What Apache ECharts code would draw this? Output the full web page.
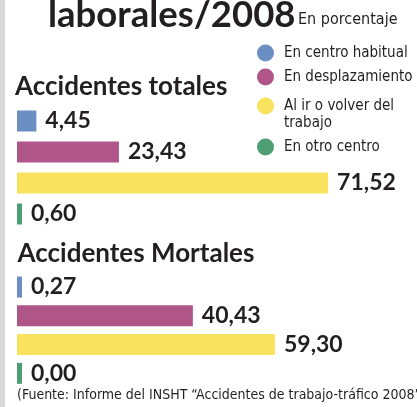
<!DOCTYPE html>
<html>
<head>
<meta charset="utf-8">
<script src="https://cdn.jsdelivr.net/npm/echarts@6/dist/echarts.min.js"></script>
<style>
  html, body { margin: 0; padding: 0; background: #fff; }
  #main { width: 417px; height: 407px; border-left: 5px solid #d9d9d9; box-sizing: border-box; }
</style>
</head>
<body>
<div id="main"></div>
<script>
var categories = ['En centro habitual', 'En desplazamiento', 'Al ir o volver del trabajo', 'En otro centro'];
// leading empty line keeps the first text line level with the dot
var legendLabels = ['En centro habitual', 'En desplazamiento', '\nAl ir o volver del\ntrabajo', 'En otro centro'];
var totales = [4.45, 23.43, 71.52, 0.60];
var mortales = [0.27, 40.43, 59.30, 0.00];
var colors = ['#6b8fc2', '#b05588', '#f9e25d', '#4e9e74'];

var narrow = '"DejaVu Sans Condensed", sans-serif';
var boldFont = 'Lato, "Open Sans", sans-serif';
var dark = '#231f20';

function fmt(p) {
    return p.value.toFixed(2).replace('.', ',');
}

function makeSeries(values, gridIndex) {
    return categories.map(function (name, i) {
        return {
            type: 'bar',
            name: name,
            xAxisIndex: gridIndex,
            yAxisIndex: gridIndex,
            data: categories.map(function (c, j) { return j === i ? values[i] : '-'; }),
            barWidth: 21,
            barGap: '-100%',
            barMinHeight: 5,
            itemStyle: { color: colors[i] },
            label: {
                show: true,
                position: 'right',
                distance: 9,
                formatter: fmt,
                fontFamily: boldFont,
                fontWeight: 'bold',
                fontSize: 23,
                color: dark
            }
        };
    });
}

var legendTops = [44.5, 68.5, 80.5, 138.5];
var legends = categories.map(function (name, i) {
    return {
        left: 252,
        top: legendTops[i],
        padding: 0,
        icon: 'circle',
        itemWidth: 21,
        itemHeight: 17,
        selectedMode: false,
        data: [name],
        formatter: function () { return legendLabels[i]; },
        textStyle: {
            fontFamily: narrow,
            fontSize: 15,
            color: dark,
            lineHeight: 17,
            padding: [0, 0, 0, 3]
        }
    };
});

var myChart = echarts.init(document.getElementById('main'));
var option = {
    animation: false,
    title: [{
        text: 'laborales/2008',
        left: 43,
        top: -3.5,
        padding: 0,
        textStyle: { fontFamily: boldFont, fontWeight: 'bold', fontSize: 36.5, color: dark }
    }, {
        text: 'En porcentaje',
        left: 293,
        top: 12,
        padding: 0,
        textStyle: { fontFamily: narrow, fontWeight: 'normal', fontSize: 16, color: dark }
    }, {
        text: 'Accidentes totales',
        left: 10,
        top: 73.5,
        padding: 0,
        textStyle: { fontFamily: boldFont, fontWeight: 'bold', fontSize: 26, color: dark }
    }, {
        text: 'Accidentes Mortales',
        left: 12.5,
        top: 240.5,
        padding: 0,
        textStyle: { fontFamily: boldFont, fontWeight: 'bold', fontSize: 26, color: dark }
    }, {
        text: '(Fuente: Informe del INSHT \u201cAccidentes de trabajo-tr\u00e1fico 2008\u201d',
        left: 12,
        top: 388,
        padding: 0,
        textStyle: { fontFamily: narrow, fontWeight: 'normal', fontSize: 14, color: dark }
    }],
    legend: legends,
    grid: [
        { left: 12, top: 105.5, width: 348, height: 124 },
        { left: 12, top: 272.7, width: 348, height: 115 }
    ],
    xAxis: [
        { type: 'value', gridIndex: 0, min: 0, max: 80, show: false },
        { type: 'value', gridIndex: 1, min: 0, max: 80, show: false }
    ],
    yAxis: [
        { type: 'category', gridIndex: 0, data: categories, inverse: true, show: false },
        { type: 'category', gridIndex: 1, data: categories, inverse: true, show: false }
    ],
    series: makeSeries(totales, 0).concat(makeSeries(mortales, 1))
};
myChart.setOption(option);
</script>
</body>
</html>
